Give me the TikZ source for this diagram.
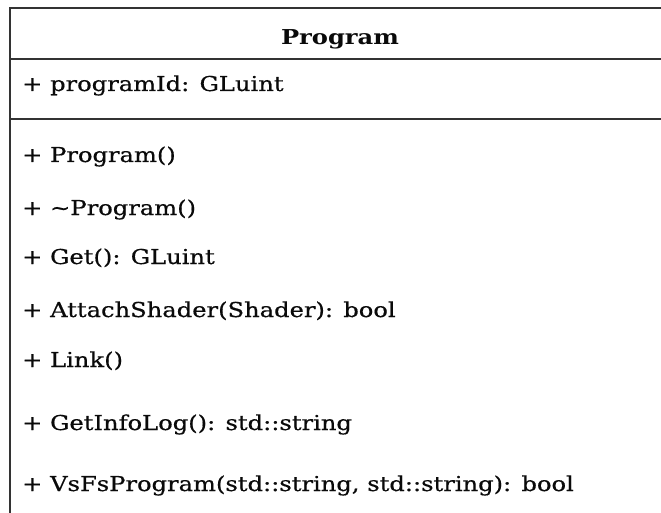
\documentclass[tikz,border=0pt]{standalone}
\usepackage{fontspec}
\setmainfont{DejaVu Serif}[FakeStretch=1.18,UprightFeatures={FakeBold=0.6}]
\definecolor{frame}{HTML}{333333}
\definecolor{ink}{HTML}{0A0A0A}

\begin{document}
\begin{tikzpicture}[x=1pt,y=-1pt,font=\fontsize{20.5}{24}\selectfont,
  member/.style={anchor=base west,text=ink,inner sep=0pt},
  title/.style={anchor=base,text=ink,inner sep=0pt,font=\fontsize{20.5}{24}\selectfont\bfseries}]
\useasboundingbox (0,0) rectangle (661,513);
\def\lft{10}
\def\txt{22}

% class frame, cut at the right and bottom
\draw[frame,line width=2pt] (661,8) -- (\lft,8) -- (\lft,513);
\draw[frame,line width=2pt] (\lft,59.5) -- (661,59.5);
\draw[frame,line width=2pt] (\lft,119) -- (661,119);

\node[title] (name) at (340,45) {Program};
\node[member] (attr) at (\txt,91) {+ programId: GLuint};

\foreach \y/\lab/\nm in {
  162/{+ Program()}/ctor,
  215/{+ \textasciitilde Program()}/dtor,
  264/{+ Get(): GLuint}/get,
  317/{+ AttachShader(Shader): bool}/attach,
  367/{+ Link()}/link,
  430/{+ GetInfoLog(): std::string}/info,
  491/{+ VsFsProgram(std::string, std::string): bool}/vsfs
} {
  \node[member] (\nm) at (\txt,\y) {\lab};
}
\end{tikzpicture}
\end{document}
